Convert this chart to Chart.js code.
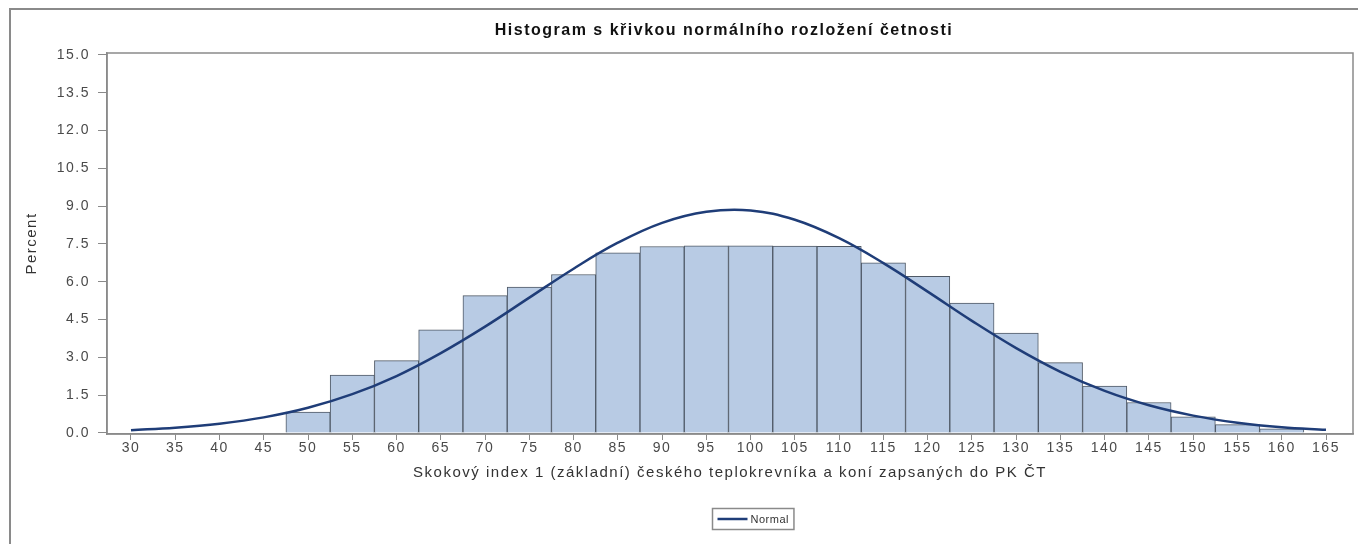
<!DOCTYPE html>
<html>
<head>
<meta charset="utf-8">
<script src="https://cdn.jsdelivr.net/npm/chart.js@4.4.1/dist/chart.umd.min.js"></script>
<style>
  html, body { margin: 0; padding: 0; background: #fff; overflow: hidden; }
  body { width: 1358px; height: 544px; position: relative; }
  #frame { position: absolute; left: 9px; top: 8px; width: 1400px; height: 600px;
           border-left: 2px solid #8a8a8a; border-top: 2px solid #8a8a8a; }
  #wrap { position: absolute; left: 11px; top: 10px; width: 1347px; height: 534px; }
</style>
</head>
<body>
<div id="frame"></div>
<div id="wrap"><canvas id="histChart"></canvas></div>
<script>
const chartTitle = "Histogram s křivkou normálního rozložení četnosti";
const xTitle = "Skokový index 1 (základní) českého teplokrevníka a koní zapsaných do PK ČT";
const yTitle = "Percent";
const curveLabel = "Normal";

// histogram bins (midpoints, width 5) and their percent
const binMids = [50, 55, 60, 65, 70, 75, 80, 85, 90, 95, 100, 105, 110, 115, 120, 125, 130, 135, 140, 145, 150, 155, 160];
const binPercent = [0.83, 2.30, 2.87, 4.09, 5.45, 5.79, 6.29, 7.15, 7.40, 7.43, 7.43, 7.42, 7.41, 6.75, 6.22, 5.16, 3.96, 2.79, 1.86, 1.21, 0.64, 0.33, 0.17];

// normal curve
const curveX = [30, 35, 40, 45, 50, 55, 60, 65, 70, 75, 80, 85, 90, 95, 100, 105, 110, 115, 120, 125, 130, 135, 140, 145, 150, 155, 160, 165];
const curvePercent = [0.11, 0.21, 0.37, 0.62, 1.00, 1.54, 2.26, 3.17, 4.22, 5.37, 6.52, 7.55, 8.34, 8.78, 8.83, 8.46, 7.73, 6.74, 5.61, 4.45, 3.37, 2.43, 1.67, 1.10, 0.69, 0.41, 0.23, 0.13];

const xTicks = [30, 35, 40, 45, 50, 55, 60, 65, 70, 75, 80, 85, 90, 95, 100, 105, 110, 115, 120, 125, 130, 135, 140, 145, 150, 155, 160, 165];
const yTicks = [0, 1.5, 3, 4.5, 6, 7.5, 9, 10.5, 12, 13.5, 15];

const axisGray = '#8a8a8a';
const curveColor = '#1f3d78';
const textSpacing = '1.5px';

Chart.defaults.font.family = '"Liberation Sans", Arial, sans-serif';
Chart.defaults.color = '#4a4a4a';

// the old SAS picture has wide, loosely spaced text
const wideText = {
    id: 'wideText',
    beforeUpdate(chart) { chart.ctx.letterSpacing = textSpacing; },
    beforeDraw(chart) { chart.ctx.letterSpacing = textSpacing; }
};

// frame round the plot, title on top and the boxed legend below
const sasDecor = {
    id: 'sasDecor',
    afterDraw(chart) {
        const ctx = chart.ctx;
        const a = chart.chartArea;
        ctx.save();
        ctx.strokeStyle = axisGray;
        ctx.lineWidth = 1.5;
        ctx.strokeRect(a.left, a.top, a.right - a.left, a.bottom - a.top);

        ctx.fillStyle = '#111';
        ctx.font = 'bold 16px "Liberation Sans", Arial, sans-serif';
        ctx.textAlign = 'center';
        ctx.textBaseline = 'middle';
        ctx.fillText(chartTitle, (a.left + a.right) / 2 - 6, 21);

        // legend
        const cx = (a.left + a.right) / 2 + 23;
        const ly = 509;
        ctx.letterSpacing = '0.5px';
        ctx.font = '11px "Liberation Sans", Arial, sans-serif';
        const tw = ctx.measureText(curveLabel).width;
        const w = 38 + tw + 5;
        const x0 = Math.round(cx - w / 2) + 0.5;
        ctx.strokeStyle = axisGray;
        ctx.lineWidth = 1.5;
        ctx.strokeRect(x0, ly - 10.5, w, 21);
        ctx.strokeStyle = curveColor;
        ctx.lineWidth = 2.5;
        ctx.beginPath();
        ctx.moveTo(x0 + 5, ly);
        ctx.lineTo(x0 + 35, ly);
        ctx.stroke();
        ctx.fillStyle = '#333';
        ctx.textAlign = 'left';
        ctx.fillText(curveLabel, x0 + 38, ly + 1);
        ctx.restore();
    }
};

new Chart(document.getElementById('histChart'), {
    type: 'bar',
    data: {
        datasets: [{
            type: 'line',
            label: curveLabel,
            data: curveX.map((x, i) => ({ x: x, y: curvePercent[i] })),
            borderColor: curveColor,
            borderWidth: 2.5,
            pointRadius: 0,
            tension: 0.4,
            fill: false,
            order: 0
        }, {
            type: 'bar',
            label: 'Percent',
            data: binMids.map((x, i) => ({ x: x, y: binPercent[i] })),
            backgroundColor: '#b8cbe4',
            borderColor: '#4f5966',
            borderWidth: 1,
            categoryPercentage: 1.0,
            barPercentage: 1.0,
            order: 1
        }]
    },
    options: {
        responsive: true,
        maintainAspectRatio: false,
        animation: false,
        layout: { padding: { top: 43, right: 5, bottom: 60, left: 0 } },
        plugins: {
            legend: { display: false },
            title: { display: false },
            tooltip: { enabled: false }
        },
        scales: {
            x: {
                type: 'linear',
                offset: false,
                min: 27.29,
                max: 168.05,
                afterBuildTicks: scale => { scale.ticks = xTicks.map(v => ({ value: v })); },
                afterFit: scale => { scale.height = 50; },
                grid: { offset: false, drawOnChartArea: false, drawTicks: true, tickLength: 6, color: axisGray },
                border: { display: true, color: axisGray, width: 1.5 },
                ticks: { font: { size: 14 }, padding: 0, maxRotation: 0, autoSkip: false },
                title: { display: true, text: xTitle, font: { size: 15 }, color: '#333', padding: { bottom: 2 } }
            },
            y: {
                min: -0.04,
                max: 15.079,
                afterBuildTicks: scale => { scale.ticks = yTicks.map(v => ({ value: v })); },
                afterFit: scale => { scale.width = 96; },
                grid: { drawOnChartArea: false, drawTicks: true, tickLength: 9, color: axisGray },
                border: { display: true, color: axisGray, width: 1.5 },
                ticks: { font: { size: 14 }, padding: 8, callback: v => v.toFixed(1) },
                title: { display: true, text: yTitle, font: { size: 15 }, color: '#333', padding: { top: 12 } }
            }
        }
    },
    plugins: [wideText, sasDecor]
});
</script>
</body>
</html>
